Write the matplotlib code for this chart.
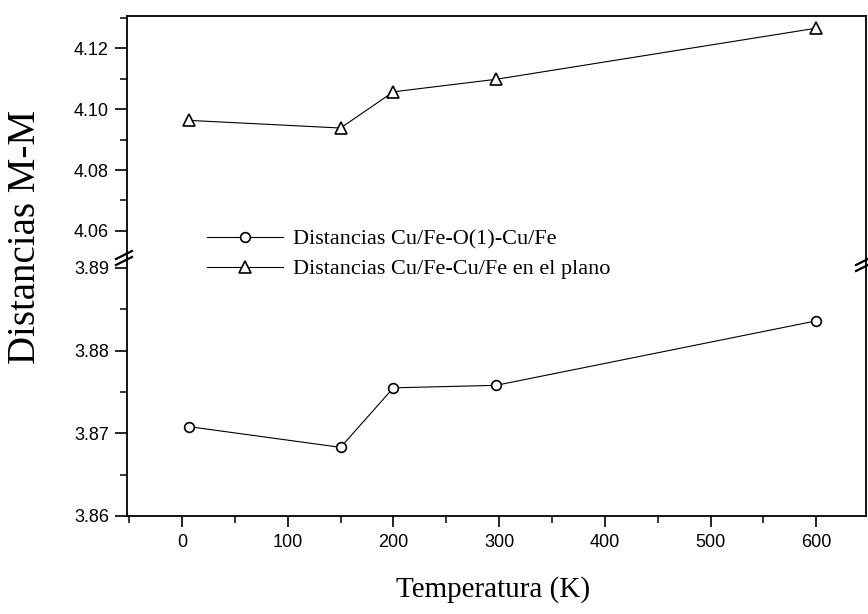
import matplotlib
matplotlib.use('Agg')
import matplotlib.pyplot as plt
from matplotlib.lines import Line2D
from matplotlib.ticker import MultipleLocator, FixedLocator

# temperaturas (K) y distancias M-M
temp = [7, 150, 200, 297, 600]
d_cu_o_cu = [3.8708, 3.8683, 3.8755, 3.8758, 3.8836]
d_plano = [4.0963, 4.0938, 4.1057, 4.1098, 4.1266]

lab_o = 'Distancias Cu/Fe-O(1)-Cu/Fe'
lab_pl = 'Distancias Cu/Fe-Cu/Fe en el plano'

xticks = [0, 100, 200, 300, 400, 500, 600]
yticks_top = [4.06, 4.08, 4.10, 4.12]
yticks_bot = [3.86, 3.87, 3.88, 3.89]

W, H = 868, 614
fig = plt.figure(figsize=(W / 100, H / 100), dpi=100)

def fr(x0, y0, x1, y1):
    # pixel box -> fraction de figura
    return [x0 / W, 1 - y1 / H, (x1 - x0) / W, (y1 - y0) / H]

L, R, T, B, BRK = 127, 866, 16, 516, 258
ax_top = fig.add_axes(fr(L, T, R, BRK))
ax_bot = fig.add_axes(fr(L, BRK, R, B))

tick_font = {'family': 'Liberation Sans', 'size': 13}
serif = 'Liberation Serif'

mk = dict(color='black', linewidth=0.8, markerfacecolor='white',
          markeredgecolor='black', markeredgewidth=1.2)
l1, = ax_bot.plot(temp, d_cu_o_cu, marker='o', markersize=7, label=lab_o, **mk)
l2, = ax_top.plot(temp, d_plano, marker='^', markersize=8, label=lab_pl, **mk)

for ax in (ax_top, ax_bot):
    ax.set_xlim(-52, 647)
    for s in ax.spines.values():
        s.set_linewidth(1.3)
    ax.tick_params(axis='y', which='major', direction='out', length=9, width=1.2, pad=4)
    ax.tick_params(axis='y', which='minor', direction='out', length=5, width=1.1)
    ax.tick_params(axis='y', right=False)

ax_top.set_ylim(4.0511, 4.1306)
ax_top.yaxis.set_major_locator(FixedLocator(yticks_top))
ax_top.yaxis.set_minor_locator(FixedLocator([4.07, 4.09, 4.11, 4.13]))
ax_top.set_yticklabels(['%.2f' % v for v in yticks_top], fontdict=tick_font)
ax_top.spines['bottom'].set_visible(False)
ax_top.tick_params(axis='x', which='both', bottom=False, labelbottom=False)

ax_bot.set_ylim(3.86, 3.8912)
ax_bot.yaxis.set_major_locator(FixedLocator(yticks_bot))
ax_bot.yaxis.set_minor_locator(FixedLocator([3.865, 3.875, 3.885]))
ax_bot.set_yticklabels(['%.2f' % v for v in yticks_bot], fontdict=tick_font)
ax_bot.spines['top'].set_visible(False)
ax_bot.xaxis.set_major_locator(FixedLocator(xticks))
ax_bot.xaxis.set_minor_locator(MultipleLocator(50))
ax_bot.set_xticklabels([str(v) for v in xticks], fontdict=tick_font)
ax_bot.tick_params(axis='x', which='major', direction='out', length=8, width=1.2, pad=5)
ax_bot.tick_params(axis='x', which='minor', direction='out', length=5, width=1.1)

# marcas de corte del eje
def brk(x, y):
    for dy in (-3, 3):
        fig.add_artist(Line2D([(x - 8) / W, (x + 8) / W],
                              [1 - (y + dy + 4) / H, 1 - (y + dy - 4) / H],
                              color='black', linewidth=1.6))
brk(L - 3, BRK)
brk(R - 2, BRK + 6)

fig.legend([l1, l2], [lab_o, lab_pl], loc='upper left',
           bbox_to_anchor=(207 / W, 1 - 229 / H), frameon=False,
           prop={'family': serif, 'size': 16}, handlelength=3.4,
           handletextpad=0.45, labelspacing=0.42, borderaxespad=0, borderpad=0)

fig.text(26 / W, 1 - 237 / H, 'Distancias M-M', rotation=90, ha='center',
         va='center', family=serif, size=28)
fig.text(493 / W, 1 - 590 / H, 'Temperatura (K)', ha='center', va='center',
         family=serif, size=21)

fig.savefig('out.png', dpi=100)
